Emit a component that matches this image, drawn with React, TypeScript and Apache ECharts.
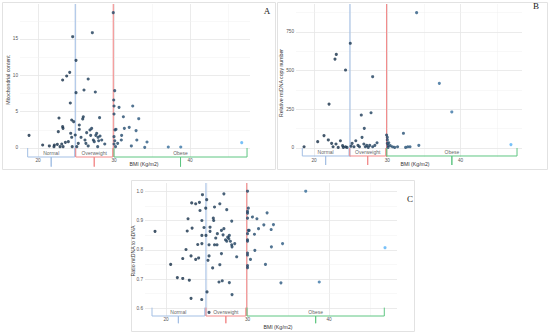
import React, { useEffect, useRef } from "react";
import * as echarts from "echarts";

// ---------- data ----------
const categories = ["Normal", "Overweight", "Obese"];
const cutoffs = [24.9, 29.9];
const xTickLabels = [20, 30, 40];
const xMajorGrid = [20, 30, 40];
const xMinorGrid = [25, 35, 45];

// Panel A: Mitochondrial content
const bmiA = [18.82,20.61,21.49,22.1,22.15,22.54,22.76,22.67,23.24,23.29,23.24,23.77,24.17,24.25,24.56,24.43,24.69,22.9,23.12,23.3,23.6,23.99,24.3,24.43,24.5,25.0,25.0,24.9,25.1,25.3,25.43,25.43,25.66,25.88,25.96,26.05,26.18,26.3,26.4,26.6,26.6,26.84,26.93,27.06,27.15,27.28,27.4,27.54,27.6,27.72,27.85,27.9,27.98,28.1,28.16,28.38,28.78,29.9,30.09,29.96,30.0,30.0,30.13,30.0,30.1,30.0,30.2,30.26,30.48,30.66,30.96,31.0,31.23,31.36,32.0,32.28,32.46,32.9,33.0,33.25,34.04,34.34,37.14,38.78,46.8];
const mitoContentA = [1.74,0.41,0.28,0.18,0.41,0.5,4.13,2.25,2.93,2.7,9.35,9.9,10.41,6.19,15.31,3.85,3.62,0.18,0.55,0.18,0.78,0.87,2.02,1.47,0.18,12.06,7.61,1.79,0.18,0.64,3.16,2.57,1.47,4.0,4.3,7.98,1.1,0.64,2.11,9.49,0.28,2.48,1.74,2.7,15.86,1.1,0.87,7.7,1.74,2.02,0.18,1.47,1.0,4.17,1.65,1.1,0.55,18.62,7.89,6.6,5.78,4.68,2.48,1.56,1.0,0.55,0.18,2.57,0.64,5.59,1.1,1.74,4.3,2.7,2.84,0.28,5.78,2.39,1.1,4.03,0.09,0.82,0.14,0.14,0.73];
const yTicksA = [0, 5, 10, 15];
const yMinorA = [2.5, 7.5, 12.5, 17.5];

// Panel B: Relative mtDNA copy number
const bmiB = [18.64,20.5,21.36,21.95,22.05,22.4,22.6,22.86,23.04,23.0,23.3,23.6,23.9,24.0,24.3,24.3,24.5,24.95,25.05,25.2,25.45,25.7,26.0,26.2,26.45,26.55,26.86,26.8,27.0,27.2,27.4,27.6,27.78,28.0,28.0,28.3,28.6,29.9,30.0,30.0,30.0,30.1,30.1,30.2,30.4,30.7,31.0,31.4,32.2,32.5,32.8,33.1,34.0,34.3,37.1,38.8,46.87];
const copyNumberB = [8,41,80,52,284,30,8,575,605,26,4,47,15,4,504,8,4,677,12,30,8,47,17,8,213,69,127,26,8,17,4,17,228,461,8,17,34,84,69,52,30,17,4,34,15,8,4,8,95,4,8,8,875,17,418,233,22];
const yTicksB = [0, 250, 500, 750];
const yMinorB = [125, 375, 625, 875];

// Panel C: Ratio mtDNA to nDNA
const bmiC = [18.65,20.57,21.39,22.05,22.05,22.45,22.6,22.7,22.86,23.07,23.07,23.15,23.2,23.64,23.64,23.89,24.0,24.1,24.17,24.38,24.4,24.4,24.4,24.47,24.66,24.87,24.9,24.99,25.03,25.15,25.28,25.28,25.28,25.4,25.4,25.72,25.8,25.85,25.95,25.95,26.1,26.26,26.3,26.5,26.6,26.6,26.8,26.8,26.9,27.0,27.1,27.1,27.3,27.45,27.45,27.57,27.7,27.77,27.77,27.9,28.06,28.06,28.1,28.1,28.43,28.67,30.0,30.0,30.0,30.0,30.0,30.0,30.0,30.0,30.0,30.0,30.0,30.1,30.1,30.2,30.36,30.6,30.85,30.9,31.15,31.35,32.0,32.2,32.4,32.9,32.93,33.18,34.1,34.3,37.14,38.8,46.87];
const ratioC = [0.863,0.750,0.705,0.702,0.770,0.801,0.864,0.906,0.696,0.634,0.779,0.960,0.874,0.957,0.767,0.818,0.772,0.962,0.934,0.630,0.900,0.849,0.821,0.988,0.876,0.942,0.849,0.971,0.656,0.764,0.779,0.817,0.586,0.877,0.863,0.738,0.908,0.900,0.946,0.817,0.840,0.817,0.855,0.690,0.749,0.957,0.866,0.787,0.694,0.851,0.872,0.991,0.834,0.937,0.829,0.843,0.838,0.849,0.688,0.829,0.898,0.817,0.810,0.647,0.821,0.776,1.0,0.931,0.925,0.908,0.855,0.834,0.829,0.789,0.782,0.746,0.739,0.942,0.866,0.866,0.767,0.912,0.853,0.798,0.906,0.872,0.885,0.750,0.926,0.869,0.810,0.886,0.687,0.821,1.0,0.690,0.807];
const yTicksC = [0.6, 0.7, 0.8, 0.9, 1.0];
const yMinorC = [0.65, 0.75, 0.85, 0.95];

// bracket spans [start, end] per category, per panel
const bracketsA = [[18.64, 24.83], [24.96, 29.83], [30.0, 47.5]];
const bracketsB = [[18.4, 24.77], [24.87, 29.78], [29.92, 47.7]];
const bracketsC = [[18.28, 24.75], [24.9, 29.78], [29.94, 46.78]];
// bracket heights: [top, horizontal, tip, label]
const bracketYA = [0, -1.24, -2.57, -0.69];
const bracketYB = [0, -51.7, -110, -26];
const bracketYC = [0.6024, 0.5738, 0.549, 0.589];

// ---------- styling ----------
const catColors = ["#a3bfe4", "#f28a8a", "#5fc682"];
const lowColor = [19, 43, 67];
const highColor = [86, 177, 247];
function pointColor(b: number) {
  let t = (b - 18.6) / (46.9 - 18.6);
  t = Math.max(0, Math.min(1, t));
  t = Math.pow(t, 1.8);
  const c = lowColor.map((l, i) => Math.round(l + (highColor[i] - l) * t));
  return `rgb(${c[0]},${c[1]},${c[2]})`;
}

const panels = [
  { bmi: bmiA, vals: mitoContentA, yTicks: yTicksA, yMinor: yMinorA, brackets: bracketsA, by: bracketYA,
    grid: { left: 20, top: 4, width: 230, height: 153 }, xMin: 17.63, xMax: 47.89, yMin: -1.24, yMax: 19.81, fmt: (v: number) => String(v) },
  { bmi: bmiB, vals: copyNumberB, yTicks: yTicksB, yMinor: yMinorB, brackets: bracketsB, by: bracketYB,
    grid: { left: 296, top: 4, width: 226, height: 153 }, xMin: 17.54, xMax: 48.38, yMin: -58.2, yMax: 931, fmt: (v: number) => String(v) },
  { bmi: bmiC, vals: ratioC, yTicks: yTicksC, yMinor: yMinorC, brackets: bracketsC, by: bracketYC,
    grid: { left: 145, top: 183, width: 252, height: 133 }, xMin: 17.42, xMax: 48.34, yMin: 0.5738, yMax: 1.028, fmt: (v: number) => v.toFixed(1) },
];

const FONT = "Liberation Sans, Arial, sans-serif";

export default function App() {
  const ref = useRef<HTMLDivElement>(null);
  useEffect(() => {
    if (!ref.current) return;
    const chart = echarts.init(ref.current, undefined, { renderer: "svg" });

    const series: any[] = [];
    panels.forEach((p, i) => {
      const major = { color: "#e6e6e6", width: 0.8, type: "solid" };
      const minor = { color: "#f1f1f1", width: 0.5, type: "solid" };
      const mlData: any[] = [
        ...xMinorGrid.map((v) => ({ xAxis: v, lineStyle: minor })),
        ...xMajorGrid.map((v) => ({ xAxis: v, lineStyle: major })),
        ...p.yMinor.map((v) => ({ yAxis: v, lineStyle: minor })),
        ...p.yTicks.map((v) => ({ yAxis: v, lineStyle: major })),
      ];
      cutoffs.forEach((c, k) => {
        series.push({
          type: "line",
          xAxisIndex: i,
          yAxisIndex: i,
          symbol: "none",
          silent: true,
          z: 2,
          lineStyle: { color: catColors[k], width: 1.1 },
          data: [[c, p.yMin], [c, p.yMax]],
        });
      });
      series.push({
        type: "scatter",
        xAxisIndex: i,
        yAxisIndex: i,
        z: 3,
        symbolSize: 3.1,
        data: p.bmi.map((b, j) => [b, p.vals[j]]),
        itemStyle: { color: (d: any) => pointColor(d.value[0]) },
        markLine: {
          silent: true,
          z: 1,
          symbol: ["none", "none"],
          label: { show: false },
          emphasis: { disabled: true },
          data: mlData,
        },
      });
      p.brackets.forEach((br, k) => {
        const [x0, x1] = br;
        const mid = (x0 + x1) / 2;
        const [top, h, tip] = p.by;
        series.push({
          type: "line",
          xAxisIndex: i,
          yAxisIndex: i,
          clip: false,
          symbol: "none",
          silent: true,
          z: 4,
          lineStyle: { color: catColors[k], width: 1 },
          data: [[x0, top], [x0, h], [mid, h], [mid, tip], [mid, h], [x1, h], [x1, top]],
        });
      });
      series.push({
        type: "scatter",
        xAxisIndex: i,
        yAxisIndex: i,
        symbolSize: 1,
        silent: true,
        z: 5,
        itemStyle: { color: "rgba(0,0,0,0)" },
        label: { show: true, position: "inside", formatter: "{b}", fontSize: 5, color: "#333", fontFamily: FONT },
        data: categories.map((c, k) => ({ name: c, value: [(p.brackets[k][0] + p.brackets[k][1]) / 2, p.by[3]] })),
      });
    });

    const labelStyle = { fontSize: 4.7, color: "#555", fontFamily: FONT };
    const titleText = (text: string, x: number, y: number, rot = 0) => ({
      type: "text", x, y, rotation: rot, z: 10,
      style: { text, fontSize: 5.2, fill: "#333", align: "center", verticalAlign: "middle", fontFamily: FONT },
    });
    const frame = (x: number, y: number, w: number, hh: number) => ({
      type: "rect", z: -1, shape: { x, y, width: w, height: hh },
      style: { fill: "none", stroke: "#e2e2e2", lineWidth: 1 },
    });
    const letter = (text: string, x: number, y: number) => ({
      type: "text", x, y, z: 10,
      style: { text, fontSize: 9, fill: "#222", align: "center", verticalAlign: "middle", fontFamily: "Liberation Serif, serif" },
    });

    chart.setOption({
      animation: false,
      backgroundColor: "#ffffff",
      grid: panels.map((p) => ({ ...p.grid, containLabel: false })),
      xAxis: panels.map((p, i) => ({
        type: "value", gridIndex: i, min: p.xMin, max: p.xMax,
        axisLine: { show: false }, axisTick: { show: false }, splitLine: { show: false },
        axisLabel: { ...labelStyle, margin: 1, customValues: xTickLabels },
      })),
      yAxis: panels.map((p, i) => ({
        type: "value", gridIndex: i, min: p.yMin, max: p.yMax,
        axisLine: { show: false }, axisTick: { show: false }, splitLine: { show: false },
        axisLabel: { ...labelStyle, margin: 2, customValues: p.yTicks, formatter: p.fmt },
      })),
      series,
      graphic: [
        frame(2.5, 2.5, 273, 167),
        frame(277.5, 2.5, 270, 167),
        frame(131.5, 180.5, 283, 151),
        letter("A", 267, 11),
        letter("B", 536, 6),
        letter("C", 410, 199),
        titleText("BMI (Kg/m2)", 144, 164),
        titleText("BMI (Kg/m2)", 415, 164),
        titleText("BMI (Kg/m2)", 278, 327),
        titleText("Mitochondrial content", 8, 80, Math.PI / 2),
        titleText("Relative mtDNA copy number", 281, 83, Math.PI / 2),
        titleText("Ratio mtDNA to nDNA", 133, 251, Math.PI / 2),
      ],
    });
    return () => chart.dispose();
  }, []);
  return <div ref={ref} style={{ position: "absolute", left: 0, top: 0, width: 550, height: 336 }} />;
}
